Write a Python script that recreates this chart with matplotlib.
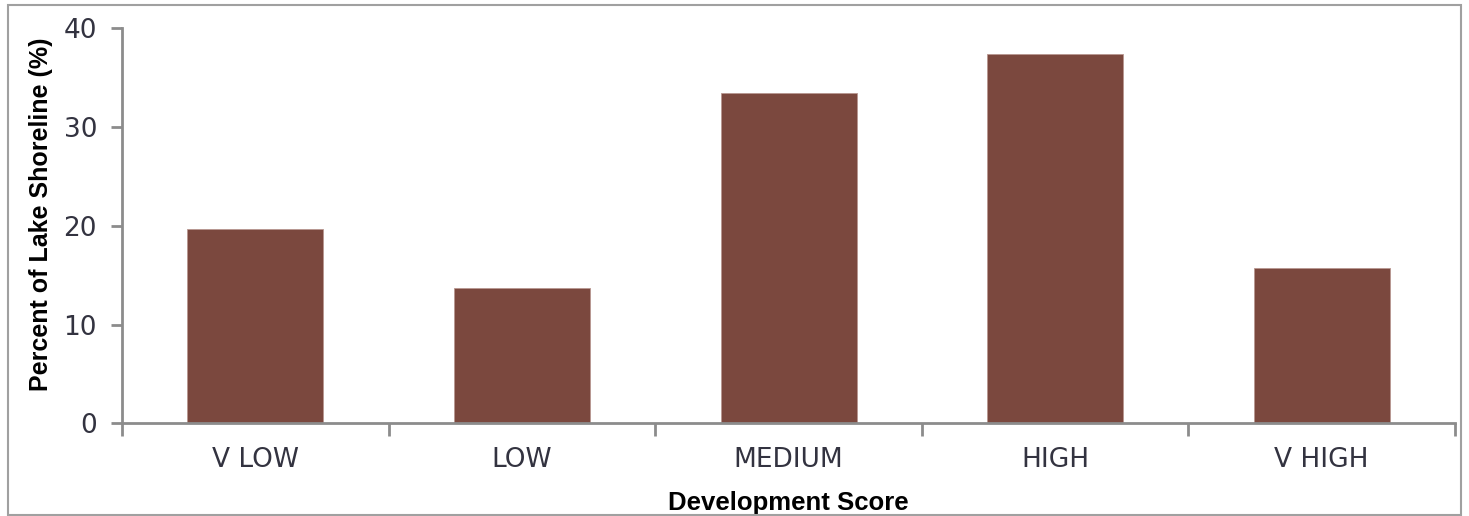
import matplotlib
matplotlib.use("Agg")
import matplotlib.pyplot as plt
from matplotlib.patches import Rectangle

categories = ["V LOW", "LOW", "MEDIUM", "HIGH", "V HIGH"]
percent_shoreline = [19.7, 13.7, 33.4, 37.4, 15.7]
y_ticks = [0, 10, 20, 30, 40]

bar_color = "#7B483E"
axis_gray = "#8C8C8C"
text_color = "#333340"

fig = plt.figure(figsize=(14.69, 5.16), dpi=100)
ax = fig.add_axes([0.0831, 0.1793, 0.9074, 0.7659])

x = range(len(categories))
ax.bar(x, percent_shoreline, width=0.51, color=bar_color,
       edgecolor="#B89690", linewidth=0.6)

ax.set_xlim(-0.5, len(categories) - 0.5)
ax.set_ylim(0, 40)
ax.set_yticks(y_ticks)
ax.set_xticks(x)
ax.set_xticklabels(categories)

# category separators as minor ticks on the x axis
ax.set_xticks([i - 0.5 for i in range(len(categories) + 1)], minor=True)
ax.tick_params(axis="x", which="major", length=0, pad=17,
               labelsize=19, labelcolor=text_color)
ax.tick_params(axis="x", which="minor", length=9, width=2,
               color=axis_gray, direction="out")
ax.tick_params(axis="y", length=8, width=2, color=axis_gray,
               labelsize=19, labelcolor=text_color, pad=10)

for side in ("top", "right"):
    ax.spines[side].set_visible(False)
for side in ("left", "bottom"):
    ax.spines[side].set_color(axis_gray)
    ax.spines[side].set_linewidth(2)

ax.set_xlabel("Development Score", fontsize=18.5, fontweight="bold",
              family="Liberation Sans", labelpad=13)
ax.set_ylabel("Percent of Lake Shoreline (%)", fontsize=18,
              fontweight="bold", family="Liberation Sans")
ax.yaxis.set_label_coords(-0.052, 0.53)

# outer chart frame
fig.patches.append(Rectangle((8 / 1469, 1 / 516), 1453 / 1469, 510 / 516,
                             transform=fig.transFigure, fill=False,
                             edgecolor="#A0A0A0", linewidth=1.5))

fig.savefig("out.png", dpi=100)
